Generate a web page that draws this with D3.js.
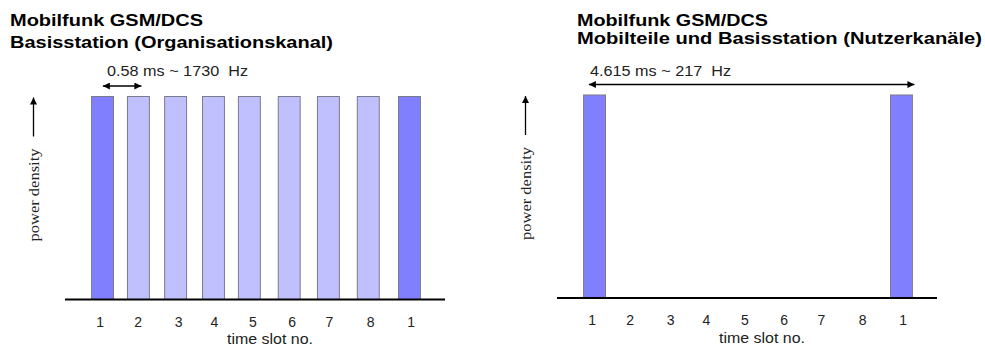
<!DOCTYPE html>
<html><head><meta charset="utf-8">
<script src="https://cdn.jsdelivr.net/npm/d3@7"></script>
<style>
html,body{margin:0;padding:0;background:#fff;}
svg{display:block;}
text{white-space:pre;}
</style></head>
<body>
<script>
// ---- data ----
const slotLabels = ["1","2","3","4","5","6","7","8","1"];
const slotStartMs = [0, 0.54, 1.10, 1.67, 2.21, 2.81, 3.40, 4.00, 4.62];
const slotLabelMs = [0.13, 0.70, 1.31, 1.85, 2.43, 3.02, 3.58, 4.20, 4.81];
const burstMs = 0.33;
const leftPower = [1,1,1,1,1,1,1,1,1];
const leftChannel = ["org","ctl","ctl","ctl","ctl","ctl","ctl","ctl","org"];
const rightPower = [1,0,0,0,0,0,0,0,1];
const rightChannel = ["org","org","org","org","org","org","org","org","org"];
const leftTitle = ["Mobilfunk GSM/DCS","Basisstation (Organisationskanal)"];
const rightTitle = ["Mobilfunk GSM/DCS","Mobilteile und Basisstation (Nutzerkanäle)"];
const leftNote = "0.58 ms ~ 1730  Hz";
const rightNote = "4.615 ms ~ 217  Hz";
const leftArrowMs = [0.17, 0.75];
const rightArrowMs = [0.08, 4.98];
const xLabel = "time slot no.";
const yLabel = "power density";
const xDomainMs = [-0.4, 5.32];

const W = 985, H = 349;
const svg = d3.select("body").append("svg").attr("width", W).attr("height", H);
const defs = svg.append("defs");
function marker(id, orient){
  defs.append("marker").attr("id", id).attr("viewBox","0 0 10 10")
    .attr("refX", 10).attr("refY", 5).attr("markerWidth", 9).attr("markerHeight", 7)
    .attr("markerUnits","userSpaceOnUse").attr("orient", orient)
    .append("path").attr("d","M0,0 L10,5 L0,10 Z").attr("fill","#000");
}
marker("ahEnd","auto");
marker("ahStart","auto-start-reverse");

const colors = {org:"#8080ff", ctl:"#c0c0ff"};
const x = d3.scaleLinear().domain(xDomainMs).range([65, 445]);
const y = d3.scaleLinear().domain([0, 1]).range([299.5, 96.5]);

function title(lines, tx, baselines, widths){
  lines.forEach((t,i)=>{
    svg.append("text").attr("x", tx).attr("y", baselines[i])
      .attr("font-family","Liberation Sans, Arial, sans-serif")
      .attr("font-weight","bold").attr("font-size", 16.5)
      .attr("textLength", widths[i]).attr("lengthAdjust","spacingAndGlyphs")
      .attr("fill","#000").text(t);
  });
}
title(leftTitle, 10, [25.5, 48], [193, 323]);
title(rightTitle, 577, [25.5, 44], [191, 405]);

function panel(dx, dy, power, channel, arrowMs){
  const g = svg.append("g").attr("transform", `translate(${dx},${dy})`);
  const data = slotLabels.map((l,i)=>({l, t:slotStartMs[i], lt:slotLabelMs[i], p:power[i], c:channel[i]}));
  // bars
  g.selectAll("rect.bar").data(data.filter(d=>d.p>0)).join("rect")
    .attr("class","bar")
    .attr("x", d=>x(d.t)).attr("width", x(d3.min(slotStartMs)+burstMs)-x(d3.min(slotStartMs)))
    .attr("y", d=>y(d.p)).attr("height", d=>y(0)-y(d.p))
    .attr("fill", d=>colors[d.c]).attr("stroke","#7a7a8a").attr("stroke-width",1);
  // baseline
  g.append("line").attr("x1", x.range()[0]).attr("x2", x.range()[1])
    .attr("y1", y(0)).attr("y2", y(0)).attr("stroke","#000").attr("stroke-width",2);
  // tick labels
  g.selectAll("text.tick").data(data).join("text").attr("class","tick")
    .attr("x", d=>x(d.lt)).attr("y", y(0)+27)
    .attr("text-anchor","middle")
    .attr("font-family","Liberation Sans, Arial, sans-serif").attr("font-size",14)
    .attr("fill","#222").text(d=>d.l);
  // x label
  g.append("text").attr("x", 227).attr("y", y(0)+44.5)
    .attr("font-family","Liberation Sans, Arial, sans-serif").attr("font-size",14)
    .attr("textLength", 86).attr("lengthAdjust","spacingAndGlyphs")
    .attr("fill","#222").text(xLabel);
  // y label + arrow
  g.append("text").attr("transform", `translate(39,${(y(0)+y(1))/2 - 3}) rotate(-90)`)
    .attr("text-anchor","middle")
    .attr("font-family","Liberation Serif, Times New Roman, serif").attr("font-size",15.5)
    .attr("textLength", 93).attr("lengthAdjust","spacingAndGlyphs")
    .attr("fill","#222").text(yLabel);
  g.append("line").attr("x1",33.5).attr("x2",33.5).attr("y1", y(0)-163).attr("y2", y(1)+1)
    .attr("stroke","#000").attr("stroke-width",1.3).attr("marker-end","url(#ahEnd)");
  // period annotation
  const ay = y(1) - 10.5;
  g.append("line").attr("x1", x(arrowMs[0])).attr("x2", x(arrowMs[1]))
    .attr("y1", ay).attr("y2", ay).attr("stroke","#000").attr("stroke-width",1.3)
    .attr("marker-start","url(#ahStart)").attr("marker-end","url(#ahEnd)");
  return g;
}
const gl = panel(0, 0, leftPower, leftChannel, leftArrowMs);
const gr = panel(492, -1.5, rightPower, rightChannel, rightArrowMs);

gl.append("text").attr("x", 107).attr("y", 76)
  .attr("font-family","Liberation Sans, Arial, sans-serif").attr("font-size",14)
  .attr("textLength", 141).attr("lengthAdjust","spacingAndGlyphs")
  .attr("fill","#222").text(leftNote);
gr.append("text").attr("x", 98).attr("y", 77)
  .attr("font-family","Liberation Sans, Arial, sans-serif").attr("font-size",14)
  .attr("textLength", 141).attr("lengthAdjust","spacingAndGlyphs")
  .attr("fill","#222").text(rightNote);
</script>
</body></html>
